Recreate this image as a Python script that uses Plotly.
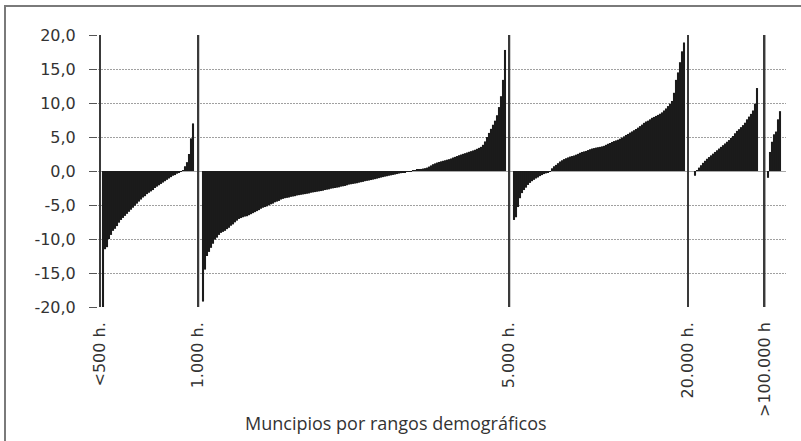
import plotly.graph_objects as go

# ---------------- data ----------------
GROUP_LABELS = ["<500 h.", "1.000 h.", "5.000 h.", "20.000 h.", ">100.000 h"]

G1_UNDER_500 = [-22.0, -11.5, -11.2, -10.0, -9.4, -8.8, -8.5, -8.1, -7.6, -7.2, -6.9, -6.6,
                -6.3, -6.0, -5.7, -5.4, -5.1, -4.8, -4.5, -4.2, -3.9, -3.7, -3.4, -3.2, -3.0,
                -2.8, -2.5, -2.3, -2.1, -1.9, -1.7, -1.5, -1.3, -1.1, -0.9, -0.7, -0.6, -0.4,
                -0.3, -0.1, 0.1, 0.7, 1.3, 2.5, 4.8, 7.0]

G2_1000_5000 = [-19.2, -14.5, -12.5, -11.9, -11.3, -10.7, -10.1, -9.8, -9.4, -9.1, -8.95, -8.8,
                -8.55, -8.35, -8.05, -7.85, -7.55, -7.3, -7.05, -6.92, -6.8, -6.7, -6.65, -6.5,
                -6.35, -6.2, -6.05, -5.9, -5.75, -5.55, -5.4, -5.3, -5.2, -5.05, -4.9, -4.8,
                -4.6, -4.5, -4.4, -4.2, -4.1, -4.0, -3.95, -3.9, -3.8, -3.75, -3.7, -3.6,
                -3.55, -3.5, -3.45, -3.4, -3.35, -3.3, -3.2, -3.15, -3.1, -3.05, -3.0, -2.95,
                -2.9, -2.8, -2.75, -2.7, -2.6, -2.55, -2.5, -2.45, -2.4, -2.3, -2.25, -2.2,
                -2.1, -2.0, -1.95, -1.9, -1.85, -1.8, -1.72, -1.65, -1.6, -1.5, -1.45, -1.4,
                -1.33, -1.27, -1.2, -1.13, -1.05, -0.97, -0.9, -0.83, -0.77, -0.7, -0.64,
                -0.58, -0.52, -0.45, -0.38, -0.32, -0.26, -0.2, -0.14, -0.08, -0.03, 0.03,
                0.1, 0.18, 0.25, 0.3, 0.36, 0.42, 0.5, 0.65, 0.82, 1.0, 1.12, 1.24, 1.33,
                1.42, 1.5, 1.58, 1.66, 1.74, 1.84, 1.98, 2.08, 2.2, 2.32, 2.42, 2.52, 2.62,
                2.72, 2.82, 2.92, 3.02, 3.12, 3.26, 3.4, 3.55, 3.85, 4.35, 5.0, 5.6, 6.2,
                6.8, 7.4, 8.2, 9.4, 11.0, 13.4, 17.8]

G3_5000_20000 = [-7.2, -6.8, -5.3, -4.0, -3.25, -2.8, -2.45, -2.05, -1.75, -1.5, -1.3, -1.1,
                 -0.95, -0.75, -0.6, -0.45, -0.35, -0.2, -0.05, 0.4, 0.7, 0.9, 1.15, 1.4,
                 1.58, 1.75, 1.88, 2.0, 2.12, 2.2, 2.28, 2.4, 2.52, 2.68, 2.8, 2.88, 2.95,
                 3.08, 3.2, 3.3, 3.37, 3.44, 3.5, 3.55, 3.62, 3.7, 3.85, 4.0, 4.12, 4.27,
                 4.4, 4.5, 4.6, 4.75, 4.92, 5.1, 5.3, 5.45, 5.65, 5.82, 6.0, 6.18, 6.38,
                 6.6, 6.82, 7.08, 7.28, 7.4, 7.6, 7.82, 7.95, 8.1, 8.25, 8.42, 8.62, 8.9,
                 9.2, 9.55, 9.9, 10.3, 11.5, 13.4, 14.5, 16.0, 17.6, 18.9]

G4_20000_100000 = [-0.7, 0.1, 0.5, 0.85, 1.2, 1.5, 1.8, 2.05, 2.3, 2.55, 2.8, 3.05, 3.3,
                   3.55, 3.8, 4.05, 4.3, 4.55, 4.85, 5.15, 5.55, 5.9, 6.15, 6.45, 6.75,
                   7.1, 7.6, 8.0, 8.4, 8.9, 9.9, 12.2]

G5_OVER_100000 = [-1.0, 2.8, 4.3, 5.4, 5.8, 7.6, 8.8]

GROUPS = [G1_UNDER_500, G2_1000_5000, G3_5000_20000, G4_20000_100000, G5_OVER_100000]

Y_TICKS = [-20, -15, -10, -5, 0, 5, 10, 15, 20]
X_TITLE = "Muncipios por rangos demográficos"

# ---------------- layout constants (slot units) ----------------
GAP_AFTER_SEP = [1.5, 2.35, 2.35, 3.5, 1.75]
GAP_BEFORE_SEP = [2.65, 2.15, 2.0, 3.75]

sep_x, bar_x, bar_y = [], [], []
pos = 0.0
for gi, vals in enumerate(GROUPS):
    if gi > 0:
        pos = pos + GAP_BEFORE_SEP[gi - 1]
    sep_x.append(pos)
    start = pos + GAP_AFTER_SEP[gi]
    for k, v in enumerate(vals):
        bar_x.append(start + k)
        bar_y.append(v)
    pos = start + len(vals) - 1

Y_MIN, Y_MAX = Y_TICKS[0], Y_TICKS[-1]

fig = go.Figure()
fig.add_trace(go.Bar(
    x=bar_x, y=bar_y, width=1.04,
    marker=dict(color="#1b1b1b", line=dict(width=0)),
    showlegend=False, hoverinfo="skip",
))
fig.add_trace(go.Bar(
    x=sep_x, y=[Y_MAX - Y_MIN] * len(sep_x), base=[Y_MIN] * len(sep_x), width=0.95,
    marker=dict(color="#3a3a3a", line=dict(width=0)),
    showlegend=False, hoverinfo="skip",
))

L, R, T, B = 98, 15, 35, 134
W, H = 801, 441
pw, ph = W - L - R, H - T - B

def px_to_paper_x(px):
    return (px - L) / pw

def px_to_paper_y(py):
    return (H - B - py) / ph

fig.update_layout(
    width=W, height=H,
    margin=dict(l=L, r=R, t=T, b=B, pad=0),
    paper_bgcolor="white", plot_bgcolor="white",
    barmode="overlay",
    xaxis=dict(
        range=[-1.0, 343.0], showgrid=False, zeroline=False, showline=False,
        tickmode="array", tickvals=sep_x, ticktext=GROUP_LABELS,
        tickangle=-90, ticks="", ticklabelstandoff=11,
        tickfont=dict(family="DejaVu Sans", size=16, color="#333333"),
    ),
    yaxis=dict(
        range=[Y_MIN, Y_MAX], tickmode="array", tickvals=Y_TICKS,
        ticktext=[f"{v:.1f}".replace(".", ",") for v in Y_TICKS],
        showgrid=True, gridcolor="#a0a0a0", griddash="2px,1px", gridwidth=1,
        zeroline=True, zerolinecolor="#a8a8a8", zerolinewidth=1,
        showline=False, ticks="outside", ticklen=8, tickcolor="#555555",
        ticklabelstandoff=10,
        tickfont=dict(family="DejaVu Sans", size=16, color="#333333"),
    ),
    annotations=[dict(
        text=X_TITLE, xref="paper", yref="paper",
        x=px_to_paper_x(396), y=px_to_paper_y(423),
        xanchor="center", yanchor="middle", showarrow=False,
        font=dict(family="Open Sans", size=18, color="#333333"),
    )],
    shapes=[
        dict(type="line", xref="paper", yref="paper",
             x0=px_to_paper_x(5), x1=px_to_paper_x(5),
             y0=px_to_paper_y(441), y1=px_to_paper_y(5),
             line=dict(color="#7a7a7a", width=2)),
        dict(type="line", xref="paper", yref="paper",
             x0=px_to_paper_x(4), x1=px_to_paper_x(801),
             y0=px_to_paper_y(6), y1=px_to_paper_y(6),
             line=dict(color="#7a7a7a", width=2)),
    ],
)

fig.write_html(
    "out.html",
    config={"displayModeBar": False},
    post_script="document.body.style.margin='0';document.body.style.overflow='hidden';",
)
